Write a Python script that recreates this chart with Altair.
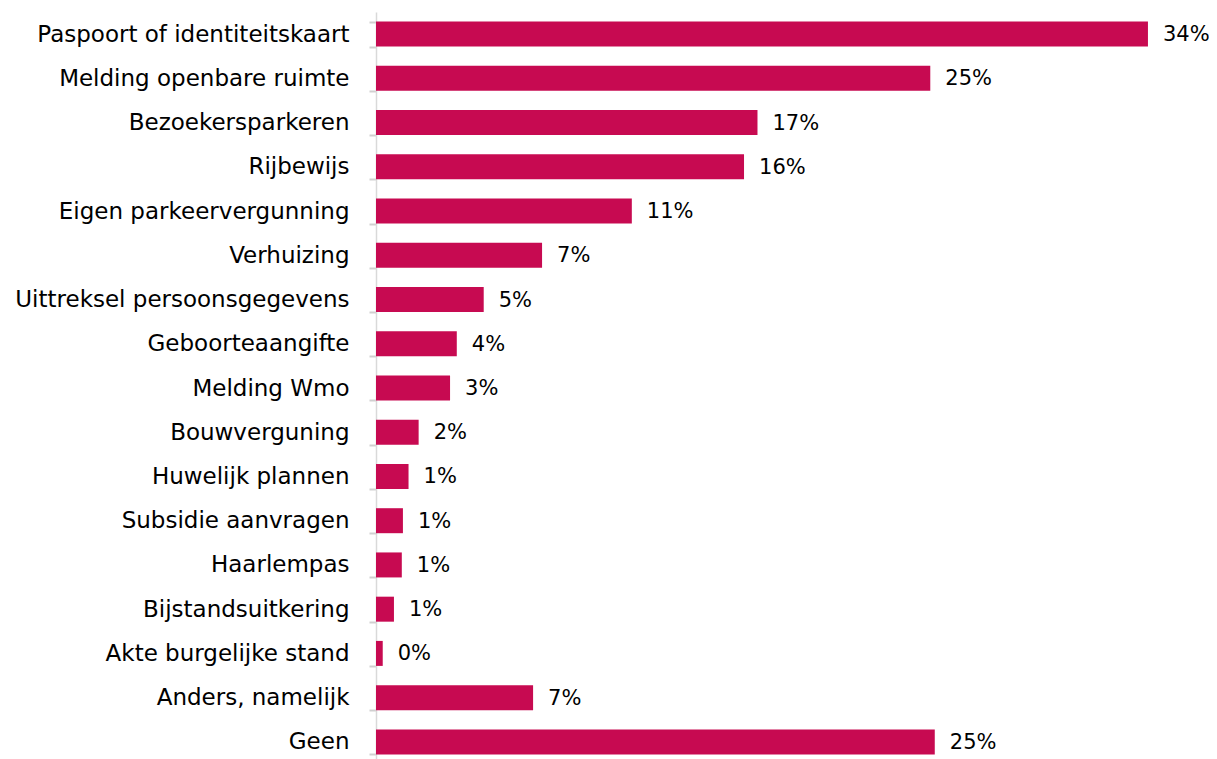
import altair as alt
import pandas as pd

categories = [
    "Paspoort of identiteitskaart",
    "Melding openbare ruimte",
    "Bezoekersparkeren\u00a0",
    "Rijbewijs",
    "Eigen parkeervergunning\u00a0",
    "Verhuizing",
    "Uittreksel persoonsgegevens",
    "Geboorteaangifte",
    "Melding Wmo\u00a0",
    "Bouwverguning",
    "Huwelijk plannen",
    "Subsidie aanvragen",
    "Haarlempas",
    "Bijstandsuitkering",
    "Akte burgelijke stand",
    "Anders, namelijk",
    "Geen",
]
values = [34.4, 24.7, 17.0, 16.4, 11.4, 7.4, 4.8, 3.6, 3.3, 1.9, 1.45, 1.2, 1.15, 0.8, 0.3, 7.0, 24.9]

df = pd.DataFrame({"cat": categories, "val": values})

FONT = "DejaVu Sans"
COLOR = "#C70A51"

y = alt.Y(
    "cat:N",
    sort=categories,
    title=None,
    scale=alt.Scale(paddingInner=0.435, paddingOuter=0.2175),
    axis=alt.Axis(
        tickBand="extent",
        tickSize=7,
        tickColor="#d0d0d0",
        tickWidth=2,
        domainColor="#d9d9d9",
        domainWidth=1.5,
        labelPadding=20,
        labelFont=FONT,
        labelFontSize=23,
        labelColor="#000000",
        labelLimit=400,
    ),
)
x = alt.X(
    "val:Q",
    title=None,
    scale=alt.Scale(domain=[0, 35.65], nice=False, zero=True),
    axis=None,
)

bars = alt.Chart(df).mark_bar(color=COLOR).encode(x=x, y=y)

pct = alt.Chart(df).transform_calculate(
    lbl="format(datum.val, '.0f') + '%'"
).mark_text(
    align="left", baseline="middle", dx=15, dy=1, font=FONT, fontSize=21, color="#000000"
).encode(x=x, y=y, text="lbl:N")

chart = (
    alt.layer(bars, pct)
    .properties(
        width=800,
        height=752,
        autosize=alt.AutoSizeParams(type="none"),
        padding={"left": 368, "top": 4, "right": 33, "bottom": 0},
    )
    .configure_view(stroke=None)
)

chart.save("out.html", embed_options={"renderer": "svg", "actions": False})
